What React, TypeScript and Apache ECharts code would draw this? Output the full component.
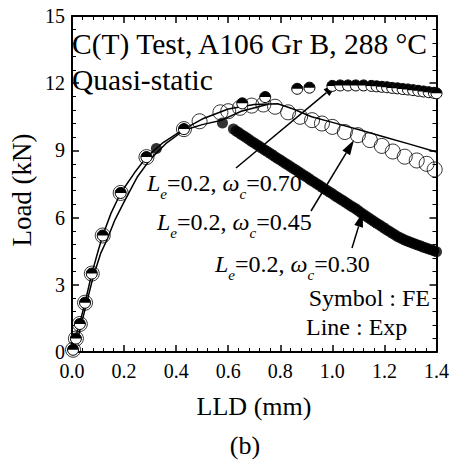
import React, { useEffect, useRef } from "react";
import * as echarts from "echarts";

// ---- data (LLD in mm, Load in kN) ----
const xTicks = [0, 0.2, 0.4, 0.6, 0.8, 1.0, 1.2, 1.4];
const yTicks = [0, 3, 6, 9, 12, 15];

// Experimental curves (lines)
const expA: number[][] = [
  [0, 0], [0.01, 0.5], [0.03, 1.3], [0.05, 2.2], [0.076, 3.5], [0.1, 4.5], [0.118, 5.2],
  [0.15, 6.2], [0.187, 7.1], [0.24, 8.0], [0.286, 8.7], [0.35, 9.35], [0.43, 9.95],
  [0.5, 10.4], [0.6, 10.85], [0.7, 11.05], [0.79, 11.08], [0.85, 10.85], [0.92, 10.5],
  [1.0, 10.25], [1.11, 9.9], [1.2, 9.6], [1.3, 9.27], [1.4, 8.93],
];
const expB: number[][] = [
  [0, 0], [0.02, 0.5], [0.05, 1.9], [0.08, 3.3], [0.11, 4.4], [0.134, 5.0], [0.165, 5.9],
  [0.2, 6.7], [0.25, 7.8], [0.3, 8.6], [0.36, 9.3], [0.43, 9.9], [0.5, 10.15],
  [0.575, 10.35], [0.65, 10.75], [0.75, 11.05],
];

// FE: Le=0.2, wc=0.45 (open circles)
const fe045: number[][] = [
  [0.004, 0.1], [0.015, 0.6], [0.03, 1.25], [0.05, 2.2], [0.076, 3.5], [0.118, 5.2],
  [0.187, 7.1], [0.286, 8.7], [0.43, 9.95], [0.49, 10.3], [0.57, 10.7], [0.6, 10.75],
  [0.645, 10.9], [0.69, 11.0], [0.735, 11.05], [0.78, 10.95], [0.83, 10.7], [0.876, 10.5],
  [0.922, 10.35], [0.96, 10.2], [1.0, 10.05], [1.048, 9.82], [1.098, 9.68], [1.144, 9.46],
  [1.19, 9.2], [1.232, 8.95], [1.278, 8.72], [1.324, 8.55], [1.362, 8.4], [1.393, 8.15],
];

// FE: Le=0.2, wc=0.30 (filled)
const fe030: number[][] = [
  [0.004, 0.1], [0.015, 0.6], [0.03, 1.25], [0.05, 2.2], [0.076, 3.5], [0.118, 5.2],
  [0.187, 7.1], [0.286, 8.7], [0.324, 9.08], [0.43, 9.95], [0.578, 10.22],
  [0.62, 9.96], [0.63, 9.87], [0.64, 9.8], [0.65, 9.71], [0.66, 9.64], [0.67, 9.56],
  [0.68, 9.49], [0.69, 9.4], [0.7, 9.33], [0.71, 9.25], [0.72, 9.18], [0.73, 9.1],
  [0.74, 9.02], [0.75, 8.95], [0.76, 8.87], [0.77, 8.8], [0.78, 8.72], [0.79, 8.64],
  [0.8, 8.57], [0.81, 8.49], [0.82, 8.42], [0.83, 8.35], [0.84, 8.27], [0.85, 8.19],
  [0.86, 8.12], [0.87, 8.05], [0.88, 7.97], [0.89, 7.89], [0.9, 7.82], [0.91, 7.74],
  [0.92, 7.66], [0.93, 7.59], [0.94, 7.51], [0.95, 7.44], [0.96, 7.36], [0.97, 7.28],
  [0.98, 7.21], [0.99, 7.13], [1.0, 7.06], [1.01, 6.98], [1.02, 6.91], [1.03, 6.83],
  [1.04, 6.76], [1.05, 6.69], [1.06, 6.61], [1.07, 6.53], [1.08, 6.46], [1.09, 6.39],
  [1.1, 6.31], [1.11, 6.22], [1.12, 6.14], [1.13, 6.06], [1.14, 5.98], [1.15, 5.9],
  [1.16, 5.83], [1.17, 5.75], [1.18, 5.68], [1.19, 5.6], [1.2, 5.53], [1.21, 5.45],
  [1.22, 5.38], [1.23, 5.3], [1.24, 5.23], [1.25, 5.16], [1.26, 5.1], [1.27, 5.04],
  [1.28, 4.99], [1.29, 4.94], [1.3, 4.9], [1.31, 4.85], [1.32, 4.81], [1.33, 4.77],
  [1.34, 4.73], [1.35, 4.68], [1.36, 4.64], [1.37, 4.6], [1.38, 4.56], [1.39, 4.52],
  [1.4, 4.48],
];

// FE: Le=0.2, wc=0.70 (half-filled)
const fe070: number[][] = [
  [0.004, 0.1], [0.015, 0.6], [0.03, 1.25], [0.05, 2.2], [0.076, 3.5], [0.118, 5.2],
  [0.187, 7.1], [0.286, 8.7], [0.43, 9.95], [0.654, 11.1], [0.742, 11.38],
  [0.865, 11.75], [0.912, 11.8], [1.0, 11.88], [1.03, 11.9], [1.06, 11.9], [1.09, 11.9],
  [1.12, 11.9], [1.15, 11.88], [1.17, 11.86], [1.19, 11.84], [1.21, 11.82], [1.23, 11.79],
  [1.25, 11.77], [1.27, 11.74], [1.29, 11.72], [1.31, 11.69], [1.33, 11.66], [1.35, 11.63],
  [1.37, 11.6], [1.39, 11.57], [1.4, 11.55],
];

const SERIF = "'Liberation Serif', 'Times New Roman', serif";

function arrow(x1: number, y1: number, x2: number, y2: number) {
  const dx = x2 - x1, dy = y2 - y1;
  const L = Math.sqrt(dx * dx + dy * dy);
  const ux = dx / L, uy = dy / L;
  const hl = 15, hw = 4.5;
  const bx = x2 - ux * hl, by = y2 - uy * hl;
  return [
    { type: "line", shape: { x1, y1, x2: bx, y2: by }, style: { stroke: "#000", lineWidth: 1.5 } },
    {
      type: "polygon",
      shape: { points: [[x2, y2], [bx - uy * hw, by + ux * hw], [bx + uy * hw, by - ux * hw]] },
      style: { fill: "#000" },
    },
  ];
}

const rich = {
  i: { fontFamily: SERIF, fontSize: 24, fontStyle: "italic", lineHeight: 36, verticalAlign: "middle" },
  n: { fontFamily: SERIF, fontSize: 24, lineHeight: 36, verticalAlign: "middle" },
  s: { fontFamily: SERIF, fontSize: 15, fontStyle: "italic", lineHeight: 36, verticalAlign: "bottom" },
};

function annot(x: number, y: number, wc: string) {
  return {
    type: "text",
    x,
    y,
    style: {
      text: `{i|L}{s|e}{n|=0.2, }{i|ω}{s|c}{n|=${wc}}`,
      rich,
      fill: "#000",
      align: "left",
      verticalAlign: "middle",
    },
  };
}

function axisCommon(pos: string, showLabel: boolean, isX: boolean) {
  return {
    type: "value",
    position: pos,
    min: 0,
    max: isX ? 1.4 : 15,
    interval: isX ? 0.2 : 3,
    axisLine: { show: true, onZero: false, lineStyle: { color: "#000", width: 2 } },
    axisTick: { show: true, inside: true, length: 7, lineStyle: { color: "#000", width: 1.5 } },
    minorTick: { show: true, splitNumber: 5, length: 4, lineStyle: { color: "#000", width: 1 } },
    splitLine: { show: false },
    axisLabel: {
      show: showLabel,
      color: "#000",
      fontFamily: SERIF,
      fontSize: 20,
      lineHeight: 20,
      margin: isX ? 9 : 7,
      padding: isX ? 0 : [0, 0, 4, 0],
      formatter: (v: number) => (isX ? v.toFixed(1) : String(v)),
    },
  };
}

export default function App() {
  const ref = useRef<HTMLDivElement>(null);
  useEffect(() => {
    document.body.style.margin = "0";
    if (!ref.current) return;
    const chart = echarts.init(ref.current, null, { renderer: "svg" });
    const option: any = {
      animation: false,
      backgroundColor: "#fff",
      grid: { left: 72, top: 16, width: 366, height: 336, containLabel: false },
      xAxis: [axisCommon("bottom", true, true), axisCommon("top", false, true)],
      yAxis: [axisCommon("left", true, false), axisCommon("right", false, false)],
      series: [
        {
          type: "line", data: expA, showSymbol: false, symbol: "none",
          lineStyle: { color: "#000", width: 1.5 }, z: 2,
        },
        {
          type: "line", data: expB, showSymbol: false, symbol: "none",
          lineStyle: { color: "#000", width: 1.5 }, z: 2,
        },
        {
          type: "scatter", data: fe045, symbol: "circle", symbolSize: 15,
          itemStyle: { color: "rgba(0,0,0,0)", borderColor: "#000", borderWidth: 1 }, z: 3,
        },
        {
          type: "scatter", data: fe030, symbol: "circle", symbolSize: 11,
          itemStyle: { color: "#000", borderColor: "#000", borderWidth: 0 }, z: 4,
        },
        {
          type: "custom", data: fe070, z: 5,
          coordinateSystem: "cartesian2d",
          encode: { x: 0, y: 1 },
          renderItem: (params: any, api: any) => {
            const p = api.coord([api.value(0), api.value(1)]);
            const r = 5.5;
            return {
              type: "group",
              children: [
                { type: "circle", shape: { cx: p[0], cy: p[1], r }, style: { fill: "#fff", stroke: "#000", lineWidth: 1 } },
                {
                  type: "sector",
                  shape: { cx: p[0], cy: p[1], r0: 0, r, startAngle: Math.PI, endAngle: 2 * Math.PI, clockwise: true },
                  style: { fill: "#000" },
                },
              ],
            };
          },
        },
      ],
      graphic: [
        { type: "text", x: 72, y: 44, style: { text: "C(T) Test, A106 Gr B, 288 °C", font: `29.5px ${SERIF}`, fill: "#000", align: "left", verticalAlign: "middle" } },
        { type: "text", x: 72, y: 80, style: { text: "Quasi-static", font: `29.5px ${SERIF}`, fill: "#000", align: "left", verticalAlign: "middle" } },
        { type: "text", x: 430, y: 298, style: { text: "Symbol : FE", font: `24px ${SERIF}`, fill: "#000", align: "right", verticalAlign: "middle" } },
        { type: "text", x: 306, y: 327, style: { text: "Line : Exp", font: `24px ${SERIF}`, fill: "#000", align: "left", verticalAlign: "middle" } },
        { type: "text", x: 22, y: 190, rotation: Math.PI / 2, style: { text: "Load (kN)", font: `27px ${SERIF}`, fill: "#000", align: "center", verticalAlign: "middle" } },
        { type: "text", x: 254, y: 406, style: { text: "LLD (mm)", font: `26px ${SERIF}`, fill: "#000", align: "center", verticalAlign: "middle" } },
        { type: "text", x: 245, y: 445, style: { text: "(b)", font: `26px ${SERIF}`, fill: "#000", align: "center", verticalAlign: "middle" } },
        annot(147, 183, "0.70"),
        annot(157, 222, "0.45"),
        annot(215, 264, "0.30"),
        ...arrow(236, 168, 338, 83),
        ...arrow(311, 211, 354, 140),
        ...arrow(352, 248, 363, 212),
      ],
    };
    chart.setOption(option);
    return () => chart.dispose();
  }, []);
  return <div ref={ref} style={{ width: 452, height: 461 }} />;
}
